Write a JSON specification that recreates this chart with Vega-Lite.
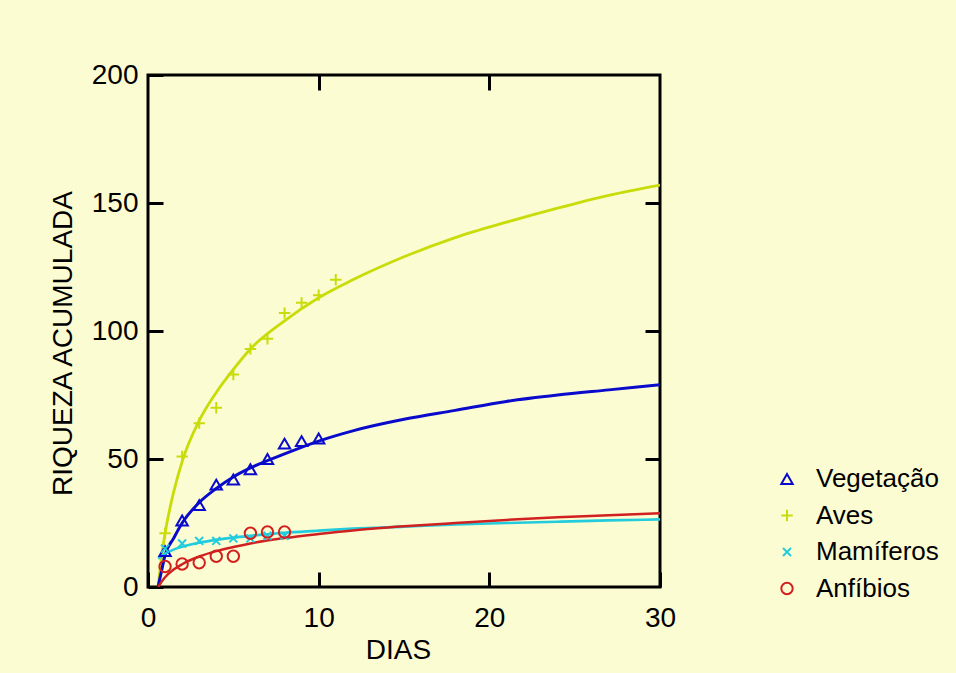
{
  "$schema": "https://vega.github.io/schema/vega-lite/v6.json",
  "width": 512,
  "height": 512,
  "autosize": {"type": "none"},
  "padding": {"left": 148, "top": 75, "right": 296, "bottom": 86},
  "background": "#FCFCD2",
  "config": {
    "view": {"stroke": "#000000", "strokeWidth": 3},
    "font": "Liberation Sans",
    "axis": {
      "grid": false,
      "domain": false,
      "tickColor": "#000000",
      "tickWidth": 3,
      "tickSize": -15,
      "labelFont": "Liberation Sans",
      "labelFontSize": 28,
      "labelColor": "#000000",
      "labelFlush": false,
      "labelOverlap": false,
      "titleFont": "Liberation Sans",
      "titleFontSize": 28,
      "titleFontWeight": "normal",
      "titleColor": "#000000"
    },
    "legend": {
      "labelFont": "Liberation Sans",
      "labelFontSize": 26,
      "labelColor": "#000000",
      "labelOffset": 16,
      "symbolSize": 130,
      "symbolStrokeWidth": 2,
      "rowPadding": 10.5,
      "padding": 0
    }
  },
  "datasets": {
    "points": [
      {"group": "Vegetação", "day": 1, "value": 14},
      {"group": "Vegetação", "day": 2, "value": 26},
      {"group": "Vegetação", "day": 3, "value": 32},
      {"group": "Vegetação", "day": 4, "value": 40},
      {"group": "Vegetação", "day": 5, "value": 42},
      {"group": "Vegetação", "day": 6, "value": 46},
      {"group": "Vegetação", "day": 7, "value": 50},
      {"group": "Vegetação", "day": 8, "value": 56},
      {"group": "Vegetação", "day": 9, "value": 57},
      {"group": "Vegetação", "day": 10, "value": 58},
      {"group": "Aves", "day": 1, "value": 21},
      {"group": "Aves", "day": 2, "value": 51},
      {"group": "Aves", "day": 3, "value": 64},
      {"group": "Aves", "day": 4, "value": 70},
      {"group": "Aves", "day": 5, "value": 83},
      {"group": "Aves", "day": 6, "value": 93},
      {"group": "Aves", "day": 7, "value": 97},
      {"group": "Aves", "day": 8, "value": 107},
      {"group": "Aves", "day": 9, "value": 111},
      {"group": "Aves", "day": 10, "value": 114},
      {"group": "Aves", "day": 11, "value": 120},
      {"group": "Mamíferos", "day": 1, "value": 15},
      {"group": "Mamíferos", "day": 2, "value": 17},
      {"group": "Mamíferos", "day": 3, "value": 18},
      {"group": "Mamíferos", "day": 4, "value": 18},
      {"group": "Mamíferos", "day": 5, "value": 19},
      {"group": "Mamíferos", "day": 6, "value": 19},
      {"group": "Mamíferos", "day": 7, "value": 20},
      {"group": "Mamíferos", "day": 8, "value": 20},
      {"group": "Anfíbios", "day": 1, "value": 8},
      {"group": "Anfíbios", "day": 2, "value": 9},
      {"group": "Anfíbios", "day": 3, "value": 9.5},
      {"group": "Anfíbios", "day": 4, "value": 12},
      {"group": "Anfíbios", "day": 5, "value": 12},
      {"group": "Anfíbios", "day": 6, "value": 21},
      {"group": "Anfíbios", "day": 7, "value": 21.5},
      {"group": "Anfíbios", "day": 8, "value": 21.5}
    ],
    "curves": [
      {"group": "Aves", "day": 0.6, "value": 0.5},
      {"group": "Aves", "day": 0.8, "value": 12},
      {"group": "Aves", "day": 1, "value": 21},
      {"group": "Aves", "day": 1.5, "value": 37},
      {"group": "Aves", "day": 2, "value": 49},
      {"group": "Aves", "day": 3, "value": 65},
      {"group": "Aves", "day": 4, "value": 76},
      {"group": "Aves", "day": 5, "value": 85},
      {"group": "Aves", "day": 6, "value": 93},
      {"group": "Aves", "day": 8, "value": 104},
      {"group": "Aves", "day": 10, "value": 113},
      {"group": "Aves", "day": 12, "value": 120},
      {"group": "Aves", "day": 15, "value": 129},
      {"group": "Aves", "day": 18, "value": 136.5},
      {"group": "Aves", "day": 21, "value": 142.5},
      {"group": "Aves", "day": 24, "value": 148},
      {"group": "Aves", "day": 27, "value": 153},
      {"group": "Aves", "day": 30, "value": 157},
      {"group": "Vegetação", "day": 0.6, "value": 0.4},
      {"group": "Vegetação", "day": 0.8, "value": 6.5},
      {"group": "Vegetação", "day": 1, "value": 12.5},
      {"group": "Vegetação", "day": 1.5, "value": 19},
      {"group": "Vegetação", "day": 2, "value": 25},
      {"group": "Vegetação", "day": 3, "value": 33},
      {"group": "Vegetação", "day": 4, "value": 38.5},
      {"group": "Vegetação", "day": 5, "value": 43},
      {"group": "Vegetação", "day": 6, "value": 46.5},
      {"group": "Vegetação", "day": 8, "value": 52},
      {"group": "Vegetação", "day": 10, "value": 57},
      {"group": "Vegetação", "day": 12, "value": 61},
      {"group": "Vegetação", "day": 15, "value": 65.5},
      {"group": "Vegetação", "day": 18, "value": 69},
      {"group": "Vegetação", "day": 21, "value": 72.5},
      {"group": "Vegetação", "day": 24, "value": 75},
      {"group": "Vegetação", "day": 27, "value": 77},
      {"group": "Vegetação", "day": 30, "value": 79},
      {"group": "Mamíferos", "day": 0.6, "value": 11},
      {"group": "Mamíferos", "day": 0.8, "value": 12.1},
      {"group": "Mamíferos", "day": 1, "value": 13},
      {"group": "Mamíferos", "day": 1.5, "value": 14.6},
      {"group": "Mamíferos", "day": 2, "value": 15.7},
      {"group": "Mamíferos", "day": 3, "value": 17.3},
      {"group": "Mamíferos", "day": 4, "value": 18.4},
      {"group": "Mamíferos", "day": 5, "value": 19.3},
      {"group": "Mamíferos", "day": 6, "value": 20},
      {"group": "Mamíferos", "day": 8, "value": 21.2},
      {"group": "Mamíferos", "day": 10, "value": 22},
      {"group": "Mamíferos", "day": 12, "value": 22.8},
      {"group": "Mamíferos", "day": 15, "value": 23.6},
      {"group": "Mamíferos", "day": 18, "value": 24.4},
      {"group": "Mamíferos", "day": 21, "value": 25},
      {"group": "Mamíferos", "day": 24, "value": 25.5},
      {"group": "Mamíferos", "day": 27, "value": 26},
      {"group": "Mamíferos", "day": 30, "value": 26.4},
      {"group": "Anfíbios", "day": 0.6, "value": 0},
      {"group": "Anfíbios", "day": 0.8, "value": 2.1},
      {"group": "Anfíbios", "day": 1, "value": 3.8},
      {"group": "Anfíbios", "day": 1.5, "value": 6.8},
      {"group": "Anfíbios", "day": 2, "value": 8.9},
      {"group": "Anfíbios", "day": 3, "value": 11.9},
      {"group": "Anfíbios", "day": 4, "value": 14},
      {"group": "Anfíbios", "day": 5, "value": 15.6},
      {"group": "Anfíbios", "day": 6, "value": 17},
      {"group": "Anfíbios", "day": 8, "value": 19.1},
      {"group": "Anfíbios", "day": 10, "value": 20.7},
      {"group": "Anfíbios", "day": 12, "value": 22.1},
      {"group": "Anfíbios", "day": 15, "value": 23.7},
      {"group": "Anfíbios", "day": 18, "value": 25},
      {"group": "Anfíbios", "day": 21, "value": 26.2},
      {"group": "Anfíbios", "day": 24, "value": 27.2},
      {"group": "Anfíbios", "day": 27, "value": 28},
      {"group": "Anfíbios", "day": 30, "value": 28.8}
    ]
  },
  "resolve": {"axis": {"x": "independent", "y": "independent"}, "legend": {"color": "independent", "shape": "independent", "strokeWidth": "independent"}},
  "layer": [
    {
      "data": {"name": "curves"},
      "mark": {"type": "line", "interpolate": "monotone", "clip": true},
      "encoding": {
        "x": {"field": "day", "type": "quantitative", "scale": {"domain": [0, 30], "nice": false},
              "axis": {"orient": "top", "labels": false, "title": null, "values": [10, 20]}},
        "y": {"field": "value", "type": "quantitative", "scale": {"domain": [0, 200], "nice": false},
              "axis": {"orient": "right", "labels": false, "title": null, "values": [50, 100, 150]}},
        "color": {"field": "group", "type": "nominal",
                  "scale": {"domain": ["Vegetação", "Aves", "Mamíferos", "Anfíbios"],
                            "range": ["#0A0ACC", "#C8DC0A", "#22CCDD", "#D02020"]},
                  "legend": null},
        "strokeWidth": {"field": "group", "type": "nominal",
                        "scale": {"domain": ["Vegetação", "Aves", "Mamíferos", "Anfíbios"], "range": [3, 2.5, 3.5, 3]},
                        "legend": null},
        "detail": {"field": "group"}
      }
    },
    {
      "data": {"name": "points"},
      "mark": {"type": "point", "filled": false, "strokeWidth": 2, "size": 130, "opacity": 1},
      "encoding": {
        "x": {"field": "day", "type": "quantitative", "scale": {"domain": [0, 30], "nice": false},
              "axis": {"orient": "bottom", "title": "DIAS", "values": [0, 10, 20, 30], "labelPadding": 32, "titlePadding": 4, "titleX": 250}},
        "y": {"field": "value", "type": "quantitative", "scale": {"domain": [0, 200], "nice": false},
              "axis": {"orient": "left", "title": "RIQUEZA ACUMULADA", "values": [0, 50, 100, 150, 200], "labelPadding": 25, "titlePadding": 14, "titleY": 268}},
        "color": {"field": "group", "type": "nominal",
                  "scale": {"domain": ["Vegetação", "Aves", "Mamíferos", "Anfíbios"],
                            "range": ["#0A0ACC", "#C8DC0A", "#22CCDD", "#D02020"]},
                  "legend": {"orient": "none", "legendX": 626, "legendY": 391, "title": null}},
        "shape": {"field": "group", "type": "nominal",
                  "scale": {"domain": ["Vegetação", "Aves", "Mamíferos", "Anfíbios"],
                            "range": ["triangle-up", "M-1,0L1,0M0,-1L0,1", "M-0.7,-0.7L0.7,0.7M-0.7,0.7L0.7,-0.7", "circle"]},
                  "legend": {"orient": "none", "legendX": 626, "legendY": 391, "title": null}}
      }
    }
  ]
}
